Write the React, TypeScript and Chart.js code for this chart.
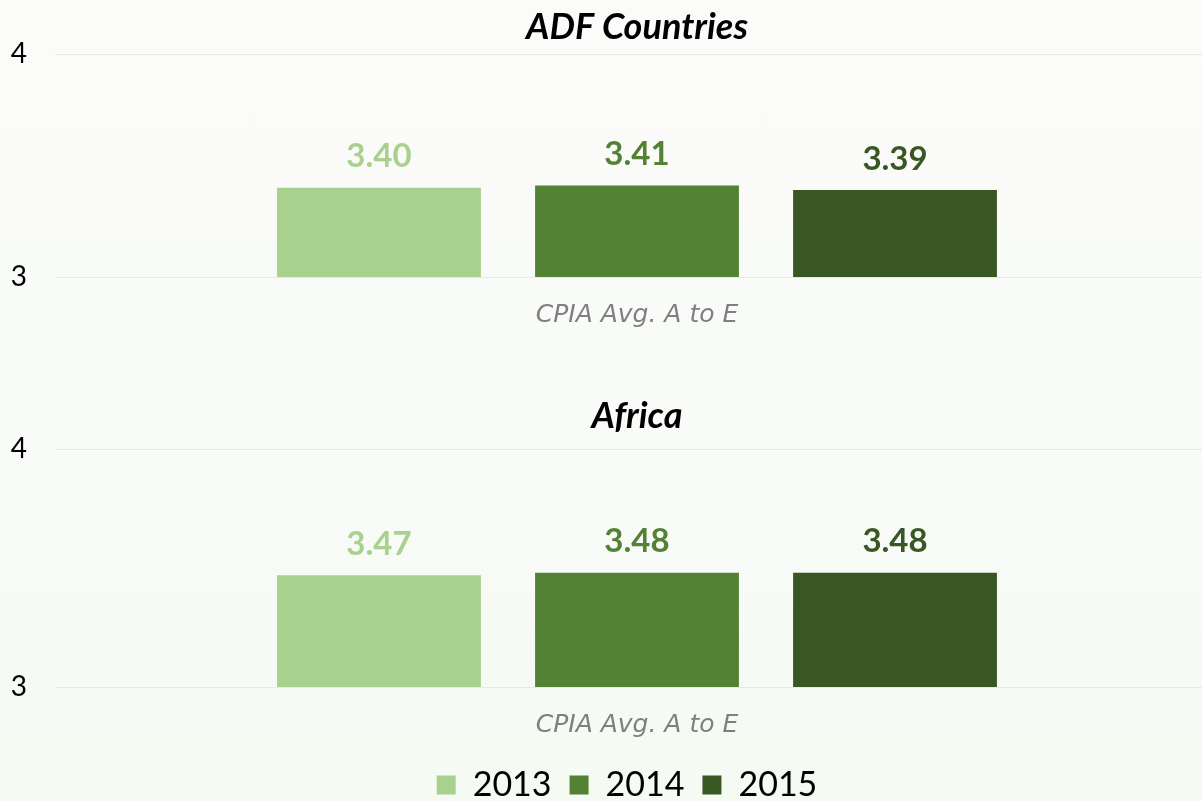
import React, { useEffect, useRef } from "react";
import { Chart, registerables } from "chart.js";

Chart.register(...registerables);

const years = ["2013", "2014", "2015"];
const categories = ["CPIA Avg. A to E"];
const adfValues = [3.4, 3.41, 3.39];
const africaValues = [3.47, 3.48, 3.48];
const panelTitles = ["ADF Countries", "Africa"];
const yMin = 3;
const yMax = 4;
const yStep = 1;
const colors = ["#a9d18e", "#548235", "#385723"];

const FONT = "Lato, 'Open Sans', sans-serif";

const valueLabels = {
  id: "valueLabels",
  afterDatasetsDraw(chart: any) {
    const ctx = chart.ctx;
    chart.data.datasets.forEach((ds: any, i: number) => {
      const meta = chart.getDatasetMeta(i);
      meta.data.forEach((bar: any, j: number) => {
        const v = ds.data[j];
        ctx.save();
        ctx.font = `bold 33px ${FONT}`;
        ctx.fillStyle = ds.backgroundColor;
        ctx.textAlign = "center";
        ctx.textBaseline = "middle";
        ctx.fillText(Number(v).toFixed(2), bar.x, bar.y - 31);
        ctx.restore();
      });
    });
  },
};

const legendShift = {
  id: "legendShift",
  afterLayout(chart: any) {
    const lg = chart.legend;
    if (lg && lg.options && lg.options.display) {
      lg.left -= 10;
      lg.right -= 10;
    }
  },
};

function makeConfig(values: number[], title: string, opts: any) {
  return {
    type: "bar",
    data: {
      labels: categories,
      datasets: years.map((y, i) => ({
        label: y,
        data: [values[i]],
        backgroundColor: colors[i],
        borderWidth: 0,
      })),
    },
    options: {
      responsive: false,
      animation: false,
      layout: { padding: 0 },
      datasets: {
        bar: { categoryPercentage: 0.685, barPercentage: 0.79 },
      },
      plugins: {
        tooltip: { enabled: false },
        title: {
          display: true,
          text: title,
          fullSize: false,
          color: "#000",
          font: { family: FONT, size: 36, weight: "bold", style: "italic", lineHeight: 1.2 },
          padding: opts.titlePadding,
        },
        legend: opts.legend,
      },
      scales: {
        x: {
          grid: { display: false },
          border: { display: false },
          ticks: {
            color: "#7f7f7f",
            padding: 15,
            font: { family: "'DejaVu Sans', sans-serif", size: 25, style: "italic", lineHeight: 1.2 },
          },
          afterFit: (s: any) => {
            s.height = opts.xHeight;
          },
        },
        y: {
          min: yMin,
          max: yMax,
          ticks: {
            stepSize: yStep,
            color: "#000",
            padding: 28,
            font: { family: FONT, size: 28 },
          },
          grid: { color: "#e6e9e4", tickLength: 17, drawTicks: true },
          border: { display: false },
          afterFit: (s: any) => {
            s.width = 72;
          },
        },
      },
    },
    plugins: [valueLabels, legendShift],
  };
}

export default function App() {
  const ref1 = useRef<HTMLCanvasElement>(null);
  const ref2 = useRef<HTMLCanvasElement>(null);

  useEffect(() => {
    document.body.style.margin = "0";
    const c1 = new Chart(
      ref1.current as any,
      makeConfig(adfValues, panelTitles[0], {
        titlePadding: { top: 5.4, bottom: 5.4 },
        legend: { display: false },
        xHeight: 103,
      }) as any
    );
    const c2 = new Chart(
      ref2.current as any,
      makeConfig(africaValues, panelTitles[1], {
        titlePadding: { top: 14.4, bottom: 11.4 },
        legend: {
          display: true,
          position: "bottom",
          fullSize: false,
          labels: {
            boxWidth: 19,
            boxHeight: 19,
            padding: 18,
            color: "#000",
            font: { family: FONT, size: 34 },
          },
        },
        xHeight: 63,
      }) as any
    );
    return () => {
      c1.destroy();
      c2.destroy();
    };
  }, []);

  return (
    <div
      style={{
        position: "absolute",
        left: 0,
        top: 0,
        width: 1202,
        height: 801,
        overflow: "hidden",
        background: "linear-gradient(to bottom, #fbfcfa 0%, #f9fbf8 50%, #f5faf3 100%)",
      }}
    >
      <div style={{ position: "absolute", left: 0, top: 0, width: 1202, height: 380 }}>
        <canvas ref={ref1} width={1202} height={380} style={{ display: "block" }} />
      </div>
      <div style={{ position: "absolute", left: 0, top: 380, width: 1202, height: 432 }}>
        <canvas ref={ref2} width={1202} height={432} style={{ display: "block" }} />
      </div>
    </div>
  );
}
